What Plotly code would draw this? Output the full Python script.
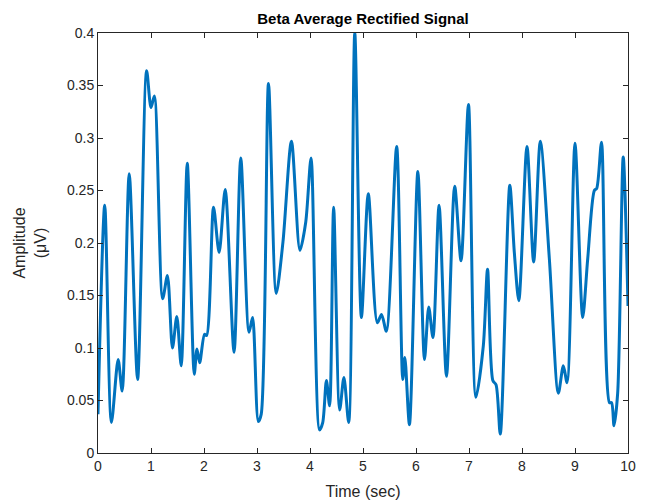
import plotly.graph_objects as go

time_sec = [0.0, 0.127, 0.253, 0.38, 0.456, 0.589, 0.747, 0.918, 1.0, 1.063, 1.22, 1.31, 1.405,
            1.487, 1.57, 1.684, 1.816, 1.867, 1.918, 2.01, 2.05, 2.18, 2.285, 2.40, 2.567, 2.694,
            2.85, 2.917, 3.025, 3.08, 3.217, 3.363, 3.49, 3.65, 3.81, 3.92, 4.02, 4.18, 4.24,
            4.31, 4.37, 4.446, 4.56, 4.64, 4.73, 4.845, 4.97, 5.1, 5.27, 5.35, 5.44, 5.635,
            5.75, 5.79, 5.876, 6.035, 6.16, 6.24, 6.32, 6.435, 6.575, 6.73, 6.85, 6.99, 7.13,
            7.27, 7.35, 7.45, 7.51, 7.59, 7.77, 7.855, 7.94, 8.094, 8.22, 8.346, 8.516, 8.686,
            8.78, 8.85, 9.0, 9.145, 9.24, 9.365, 9.41, 9.50, 9.65, 9.69, 9.736, 9.805, 9.91, 10.0]
amplitude = [0.037, 0.236, 0.029, 0.089, 0.059, 0.266, 0.070, 0.364, 0.329, 0.340, 0.147, 0.169, 0.100,
             0.130, 0.083, 0.276, 0.075, 0.099, 0.086, 0.113, 0.112, 0.234, 0.191, 0.251, 0.096, 0.281,
             0.115, 0.129, 0.030, 0.037, 0.352, 0.152, 0.201, 0.297, 0.193, 0.220, 0.281, 0.022, 0.029,
             0.069, 0.045, 0.234, 0.041, 0.072, 0.029, 0.400, 0.129, 0.247, 0.124, 0.132, 0.116, 0.292,
             0.070, 0.091, 0.027, 0.268, 0.089, 0.139, 0.110, 0.236, 0.073, 0.254, 0.183, 0.332, 0.053,
             0.102, 0.175, 0.069, 0.065, 0.018, 0.255, 0.191, 0.145, 0.292, 0.182, 0.297, 0.185, 0.057,
             0.083, 0.067, 0.295, 0.129, 0.185, 0.250, 0.252, 0.296, 0.048, 0.048, 0.026, 0.057, 0.282, 0.140]

x_ticks = list(range(0, 11))
y_ticks = [0, 0.05, 0.1, 0.15, 0.2, 0.25, 0.3, 0.35, 0.4]
y_tick_labels = ["0", "0.05", "0.1", "0.15", "0.2", "0.25", "0.3", "0.35", "0.4"]

fig = go.Figure(go.Scatter(
    x=time_sec, y=amplitude, mode="lines",
    line=dict(color="#0072BD", width=3, shape="spline", smoothing=0.8),
    showlegend=False,
))

axis_common = dict(
    showgrid=False, zeroline=False, showline=True, linecolor="#262626", linewidth=1,
    mirror="allticks", ticks="inside", ticklen=5, tickcolor="#262626", automargin=False,
    tickfont=dict(family="Liberation Sans, Arial", size=14, color="#262626"),
)

fig.update_layout(
    width=650, height=503,
    margin=dict(l=90, r=30, t=25, b=58),
    paper_bgcolor="white", plot_bgcolor="white",
    title=dict(text="<b>Beta Average Rectified Signal</b>", x=0.5, xanchor="center",
               xref="paper", y=1, yref="paper", yanchor="bottom", pad=dict(b=9),
               font=dict(family="Liberation Sans, Arial", size=15, color="black")),
    xaxis=dict(range=[0, 10], tickvals=x_ticks,
               title=dict(text="Time (sec)", standoff=13,
                          font=dict(family="Liberation Sans, Arial", size=16, color="#262626")),
               **axis_common),
    yaxis=dict(range=[0, 0.4], tickvals=y_ticks, ticktext=y_tick_labels,
               title=dict(text="Amplitude<br>(μV)", standoff=16,
                          font=dict(family="Liberation Sans, Arial", size=16, color="#262626")),
               **axis_common),
)

fig.write_html("out.html")
